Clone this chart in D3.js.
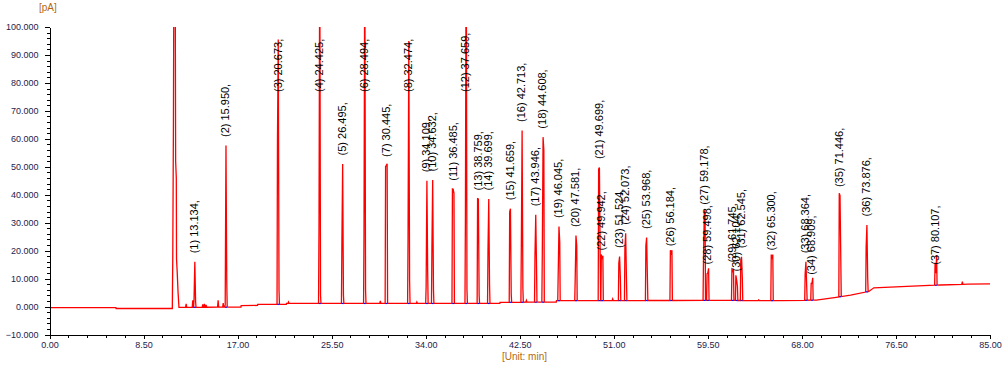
<!DOCTYPE html>
<html>
<head>
<meta charset="utf-8">
<script src="https://cdn.jsdelivr.net/npm/d3@7"></script>
<style>
  body { margin: 0; background: #fff; }
  svg { display: block; font-family: "Liberation Sans", Arial, sans-serif; }
  .axis path, .axis line { stroke: #000; shape-rendering: crispEdges; }
  .axis text { fill: #1c1c4c; font-size: 9px; }
  .unit { fill: #b26a12; font-size: 10px; }
  .plabel { fill: #000; font-size: 11px; }
</style>
</head>
<body>
<script>
// peaks (time in min, apex / left shoulder / right tail in pA)
var peakTimes = [13.134, 15.950, 20.673, 24.425, 26.495, 28.494, 30.445, 32.474, 34.109, 34.632,
                 36.485, 37.659, 38.759, 39.699, 41.659, 42.713, 43.946, 44.608, 46.045, 47.581,
                 49.699, 49.942, 51.524, 52.073, 53.968, 56.184, 59.178, 59.498, 61.745, 62.104,
                 62.545, 65.300, 68.364, 68.909, 71.446, 73.876, 80.107];
var peakApex = [16, 57.6, 95.5, 130, 51, 130, 50.5, 95, 45, 45.3,
                42, 140, 38.5, 38.5, 35, 63, 32.8, 60.6, 28.6, 25.4,
                49.7, 17, 17.9, 26.2, 24.7, 18.5, 33.4, 12, 12.7, 9.5,
                17.8, 17, 16, 8.3, 39.7, 29.2, 11.9];
var peakLeft = [3, 1, 58.5, 26.3, 21.4, 25, 49, 23.2, 6, 20,
                41, 30, 37.5, 18.8, 32.4, 19.9, 16.7, 17.3, 9.5, 7.7,
                47, 16.5, 13.4, 18.8, 19.6, 18, 15.6, 9.5, 11, 9,
                14.3, 16.5, 9.5, 6, 37, 16, 8];
var peakRight = [2, 9, 5, 3, 3, 5, 50, 8.4, 11.3, 5,
                 39.4, 5, 3, 7, 3, 5, 12.5, 54.3, 20.9, 19.6,
                 15.5, 16, 8, 8, 8, 18, 32.5, 11.5, 11.3, 5,
                 8, 16.5, 5, 8, 13, 5, 10.7];

// drifting baseline
var baseTimes  = [0, 6.0, 6.02, 11.1, 11.7, 17.3, 17.32, 18.8, 18.82, 21.4, 21.42, 40.7, 40.72, 45.8, 45.82,
                  60.6, 66, 69.3, 71.1, 72.4, 74.05, 74.5, 78.0, 80.5, 83, 85];
var baseValues = [-0.4, -0.4, -0.7, -0.7, -0.3, -0.2, 0.3, 0.4, 0.8, 0.8, 1.1, 1.1, 1.5, 1.6, 2.1,
                  2.2, 2.1, 2.3, 3.3, 4.1, 5.4, 6.7, 7.3, 7.7, 8.0, 8.1];

// solvent peak
var solventTimes  = [11.14, 11.20, 11.24, 11.36, 11.40, 11.46, 11.48, 11.54, 11.62];
var solventValues = [17, 65, 120, 120, 52, 46, 17, 12.5, 5];

// small unlabelled spikes
var spikeTimes  = [12.35, 12.95, 13.85, 14.0, 14.15, 15.24, 15.7, 21.6, 29.9, 33.2, 43.1, 50.9, 64.1, 82.5];
var spikeValues = [1.0, 2.2, 0.8, 1.0, 0.6, 2.2, 1.2, 1.6, 2.0, 1.6, 2.2, 2.7, 2.4, 8.9];

var width = 1005, height = 369;
var x = d3.scaleLinear().domain([0, 85]).range([49.5, 990]);
var y = d3.scaleLinear().domain([-10, 100]).range([334.5, 27]);
var base = d3.scaleLinear().domain(baseTimes).range(baseValues);

var svg = d3.select("body").append("svg")
    .attr("width", width)
    .attr("height", height);

svg.append("clipPath").attr("id", "plotclip")
  .append("rect")
    .attr("x", 49).attr("y", 27)
    .attr("width", 945).attr("height", 310);

// build trace points
var pts = [];
baseTimes.forEach(function(t, i) { pts.push([t, baseValues[i]]); });
solventTimes.forEach(function(t, i) { pts.push([t, solventValues[i]]); });
spikeTimes.forEach(function(t, i) {
  pts.push([t - 0.05, base(t - 0.05)]);
  pts.push([t, spikeValues[i]]);
  pts.push([t + 0.05, base(t + 0.05)]);
});
peakTimes.forEach(function(t, i) {
  pts.push([t - 0.11, base(t - 0.11)]);
  pts.push([t - 0.07, peakLeft[i] + base(t)]);
  pts.push([t, peakApex[i]]);
  pts.push([t + 0.07, peakRight[i] + base(t)]);
  pts.push([t + 0.11, base(t + 0.11)]);
});
pts.sort(function(a, b) { return a[0] - b[0]; });

var line = d3.line()
    .x(function(d) { return x(d[0]); })
    .y(function(d) { return y(d[1]); });

var plot = svg.append("g").attr("clip-path", "url(#plotclip)");

plot.append("path")
    .datum(pts)
    .attr("d", line)
    .attr("fill", "none")
    .attr("stroke", "#ff0000")
    .attr("stroke-width", 1.3)
    .attr("stroke-linejoin", "miter");

// integration marks at peak feet
plot.selectAll("line.mark")
    .data(peakTimes)
  .enter().append("line")
    .attr("class", "mark")
    .attr("x1", function(t) { return x(t - 0.09); })
    .attr("x2", function(t) { return x(t + 0.09); })
    .attr("y1", function(t) { return y(base(t)); })
    .attr("y2", function(t) { return y(base(t)); })
    .attr("stroke", "#0000ff")
    .attr("stroke-width", 1.2);

// axes
var yMinor = d3.axisLeft(y).tickValues(d3.range(-10, 100.01, 2)).tickSize(3).tickFormat("").tickSizeOuter(0);
var yMajor = d3.axisLeft(y).tickValues(d3.range(-10, 100.01, 10)).tickSize(5).tickPadding(6)
    .tickFormat(d3.format(".3f")).tickSizeOuter(0);
var xMinor = d3.axisBottom(x).tickValues(d3.range(0, 85.01, 1.7)).tickSize(3).tickFormat("").tickSizeOuter(0);
var xMajor = d3.axisBottom(x).tickValues(d3.range(0, 85.01, 8.5)).tickSize(4).tickPadding(3)
    .tickFormat(d3.format(".2f")).tickSizeOuter(0);

svg.append("g").attr("class", "axis").attr("transform", "translate(49.5,0)").call(yMinor);
svg.append("g").attr("class", "axis").attr("transform", "translate(49.5,0)").call(yMajor);
svg.append("g").attr("class", "axis").attr("transform", "translate(0,334.5)").call(xMinor);
svg.append("g").attr("class", "axis").attr("transform", "translate(0,334.5)").call(xMajor);

svg.append("text").attr("class", "unit").attr("x", 39).attr("y", 11).text("[pA]");
svg.append("text").attr("class", "unit").attr("x", 502).attr("y", 360).text("[Unit: min]");

// peak labels
svg.selectAll("text.plabel")
    .data(peakTimes)
  .enter().append("text")
    .attr("class", "plabel")
    .attr("transform", function(t, i) {
      var ly = Math.max(y(Math.min(peakApex[i], 100)) - 8.5, 92);
      return "translate(" + x(t) + "," + ly + ") rotate(-90)";
    })
    .attr("dy", "0.3em")
    .text(function(t, i) { return "(" + (i + 1) + ") " + d3.format(".3f")(t) + ","; });
</script>
</body>
</html>
